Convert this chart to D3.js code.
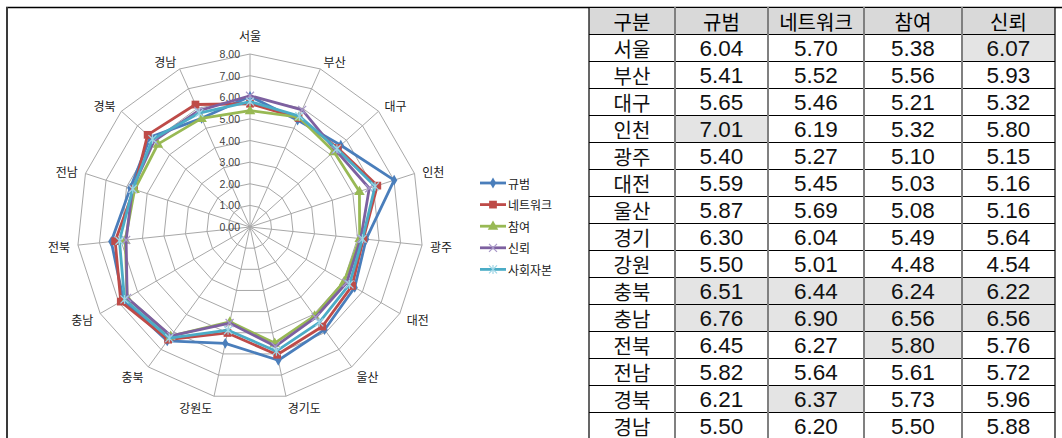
<!DOCTYPE html>
<html>
<head>
<meta charset="utf-8">
<script src="https://cdn.jsdelivr.net/npm/d3@7/dist/d3.min.js"></script>
<style>
  html, body { margin: 0; padding: 0; background: #fff; }
  svg { display: block; }
</style>
</head>
<body>
<svg id="chart" width="1062" height="438"></svg>
<script>
// Regions, in table / radar order (clockwise from the top)
const regions = ["서울", "부산", "대구", "인천", "광주", "대전", "울산", "경기", "강원", "충북", "충남", "전북", "전남", "경북", "경남"];
const axisLabels = ["서울", "부산", "대구", "인천", "광주", "대전", "울산", "경기도", "강원도", "충북", "충남", "전북", "전남", "경북", "경남"];

// Social-capital indicators per region
const norms   = [6.04, 5.41, 5.65, 7.01, 5.40, 5.59, 5.87, 6.30, 5.50, 6.51, 6.76, 6.45, 5.82, 6.21, 5.50];
const network = [5.70, 5.52, 5.46, 6.19, 5.27, 5.45, 5.69, 6.04, 5.01, 6.44, 6.90, 6.27, 5.64, 6.37, 6.20];
const partic  = [5.38, 5.56, 5.21, 5.32, 5.10, 5.03, 5.08, 5.49, 4.48, 6.24, 6.56, 5.80, 5.61, 5.73, 5.50];
const trust   = [6.07, 5.93, 5.32, 5.80, 5.15, 5.16, 5.16, 5.64, 4.54, 6.22, 6.56, 5.76, 5.72, 5.96, 5.88];
const capital = [5.80, 5.61, 5.41, 6.08, 5.23, 5.31, 5.45, 5.87, 4.88, 6.35, 6.70, 6.07, 5.70, 6.07, 5.77];

const seriesNames = ["규범", "네트워크", "참여", "신뢰", "사회자본"];
const tickValues = [0, 1, 2, 3, 4, 5, 6, 7, 8];

// Table: columns and highlighted cells [row, column]
const tableHeader = ["구분", "규범", "네트워크", "참여", "신뢰"];
const highlighted = [[0, 3], [3, 0], [9, 0], [9, 1], [9, 2], [9, 3], [10, 0], [10, 1], [10, 2], [10, 3], [11, 2], [13, 1]];

const svg = d3.select("#chart");
const cjk = "'Noto Sans CJK KR', 'Noto Sans', sans-serif";

// ---------- frame ----------
svg.append("line").attr("x1", 6).attr("x2", 1062).attr("y1", 7.5).attr("y2", 7.5)
  .attr("stroke", "#000").attr("stroke-width", 1.3);
svg.append("line").attr("x1", 7).attr("x2", 7).attr("y1", 7).attr("y2", 438)
  .attr("stroke", "#3a3a3a").attr("stroke-width", 2);

// ---------- radar ----------
const cx = 250, cy = 227, R = 173;
const n = regions.length;
const r = d3.scaleLinear().domain([0, 8]).range([0, R]);
const ang = d3.scaleLinear().domain([0, n]).range([0, 2 * Math.PI]);
const pt = (i, rad) => [cx + rad * Math.sin(ang(i)), cy - rad * Math.cos(ang(i))];

const g = svg.append("g");
const gridColor = "#a8a8a8";

// concentric polygons
tickValues.filter(v => v > 0).forEach(v => {
  g.append("path")
    .attr("d", d3.lineRadial().angle((d, i) => ang(i)).radius(r(v)).curve(d3.curveLinearClosed)(regions))
    .attr("transform", `translate(${cx},${cy})`)
    .attr("fill", "none").attr("stroke", gridColor).attr("stroke-width", 1);
});
// spokes
regions.forEach((d, i) => {
  const [x, y] = pt(i, R);
  g.append("line").attr("x1", cx).attr("y1", cy).attr("x2", x).attr("y2", y)
    .attr("stroke", gridColor).attr("stroke-width", 1);
});
// value labels along the top spoke
g.selectAll("text.tick").data(tickValues).join("text")
  .attr("class", "tick")
  .attr("x", cx - 10).attr("y", v => cy - r(v))
  .attr("text-anchor", "end").attr("dominant-baseline", "central")
  .attr("font-family", "'Liberation Sans', Arial, sans-serif").attr("font-size", 10.5)
  .attr("fill", "#404040")
  .text(v => d3.format(".2f")(v));

// category labels
axisLabels.forEach((lab, i) => {
  const a = ang(i);
  const s = Math.sin(a), c = Math.cos(a);
  let [x, y] = pt(i, R + 8);
  let anchor = "middle";
  if (Math.abs(s) < 0.05) { y -= 11 * c; }
  else { anchor = s > 0 ? "start" : "end"; if (c < 0) y += -4 * c; }
  g.append("text").attr("x", x).attr("y", y)
    .attr("text-anchor", anchor).attr("dominant-baseline", "central")
    .attr("font-family", cjk).attr("font-size", 12).attr("fill", "#202020")
    .text(lab);
});

// series
const series = [
  { name: seriesNames[0], values: norms,   color: "#4A7EBB", marker: "diamond" },
  { name: seriesNames[1], values: network, color: "#BE4B48", marker: "square" },
  { name: seriesNames[2], values: partic,  color: "#98B954", marker: "triangle" },
  { name: seriesNames[3], values: trust,   color: "#7D60A0", marker: "x" },
  { name: seriesNames[4], values: capital, color: "#4BACC6", marker: "star" }
];

function drawMarker(sel, s, x, y) {
  if (s.marker === "diamond") {
    sel.append("path").attr("d", d3.symbol(d3.symbolDiamond, 34)()).attr("transform", `translate(${x},${y})`)
      .attr("fill", s.color);
  } else if (s.marker === "square") {
    sel.append("path").attr("d", d3.symbol(d3.symbolSquare, 60)()).attr("transform", `translate(${x},${y})`)
      .attr("fill", s.color);
  } else if (s.marker === "triangle") {
    sel.append("path").attr("d", d3.symbol(d3.symbolTriangle, 48)()).attr("transform", `translate(${x},${y + 0.5})`)
      .attr("fill", s.color);
  } else if (s.marker === "x") {
    sel.append("path").attr("d", "M-4,-4L4,4M-4,4L4,-4").attr("transform", `translate(${x},${y})`)
      .attr("stroke", "#a898c8").attr("stroke-width", 1.2).attr("fill", "none");
  } else {
    sel.append("path").attr("d", "M-4,-4L4,4M-4,4L4,-4M0,-4.5L0,4.5").attr("transform", `translate(${x},${y})`)
      .attr("stroke", "#9fd6e6").attr("stroke-width", 1.2).attr("fill", "none");
  }
}

const radial = d3.lineRadial().angle((d, i) => ang(i)).radius(d => r(d)).curve(d3.curveLinearClosed);
series.forEach(s => {
  const sg = g.append("g");
  sg.append("path").attr("d", radial(s.values)).attr("transform", `translate(${cx},${cy})`)
    .attr("fill", "none").attr("stroke", s.color).attr("stroke-width", 2.8).attr("stroke-linejoin", "round");
  s.values.forEach((v, i) => {
    const [x, y] = pt(i, r(v));
    drawMarker(sg, s, x, y);
  });
});

// legend
const lg = svg.append("g");
series.forEach((s, k) => {
  const y = 183 + k * 21.6;
  lg.append("line").attr("x1", 480).attr("x2", 506).attr("y1", y).attr("y2", y)
    .attr("stroke", s.color).attr("stroke-width", 2.8);
  drawMarker(lg, s, 493, y);
  lg.append("text").attr("x", 508).attr("y", y).attr("dominant-baseline", "central")
    .attr("font-family", cjk).attr("font-size", 12).attr("fill", "#202020").text(s.name);
});

// ---------- table ----------
const colX = [589, 675, 768, 864, 962, 1055];
const rowTop = 7, rowH = 27;
const rows = regions.map((reg, i) => [reg, norms[i], network[i], partic[i], trust[i]]);
const tg = svg.append("g");

// header background
tg.append("rect").attr("x", colX[0]).attr("y", rowTop).attr("width", colX[5] - colX[0]).attr("height", rowH)
  .attr("fill", "#d9d9d9");
// highlighted cells
highlighted.forEach(([ri, ci]) => {
  tg.append("rect").attr("x", colX[ci + 1]).attr("y", rowTop + (ri + 1) * rowH)
    .attr("width", colX[ci + 2] - colX[ci + 1]).attr("height", rowH).attr("fill", "#e4e4e4");
});
// horizontal rules
d3.range(0, rows.length + 2).forEach(k => {
  const y = rowTop + k * rowH + 0.5;
  tg.append("line").attr("x1", colX[0]).attr("x2", colX[5]).attr("y1", y).attr("y2", y)
    .attr("stroke", "#000").attr("stroke-width", 1);
});
// vertical rules
colX.forEach((x, k) => {
  const edge = k === 0 || k === colX.length - 1;
  tg.append("line").attr("x1", x).attr("x2", x).attr("y1", rowTop).attr("y2", 438)
    .attr("stroke", edge ? "#000" : "#808080").attr("stroke-width", edge ? 1.2 : 2);
});
// header text
tableHeader.forEach((h, ci) => {
  tg.append("text").attr("x", (colX[ci] + colX[ci + 1]) / 2).attr("y", rowTop + rowH / 2 + 1)
    .attr("text-anchor", "middle").attr("dominant-baseline", "central")
    .attr("font-family", cjk).attr("font-size", 20).attr("fill", "#000").text(h);
});
// body text
rows.forEach((row, ri) => {
  row.forEach((v, ci) => {
    const isNum = ci > 0;
    tg.append("text").attr("x", (colX[ci] + colX[ci + 1]) / 2).attr("y", rowTop + (ri + 1) * rowH + rowH / 2 + 1)
      .attr("text-anchor", "middle").attr("dominant-baseline", "central")
      .attr("font-family", isNum ? "'Liberation Sans', Arial, sans-serif" : cjk)
      .attr("font-size", isNum ? 22.5 : 20).attr("fill", "#111")
      .text(isNum ? d3.format(".2f")(v) : v);
  });
});
</script>
</body>
</html>
